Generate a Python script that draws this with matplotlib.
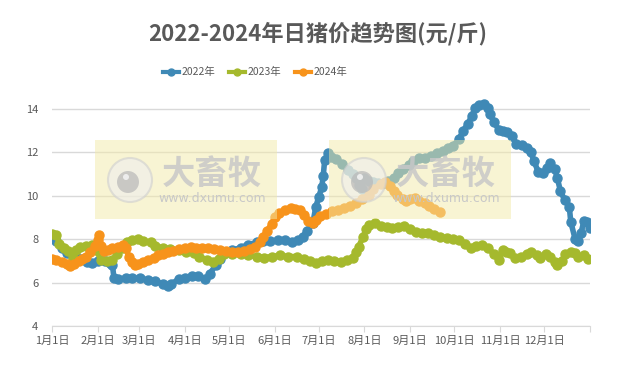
import matplotlib
matplotlib.use('Agg')
import matplotlib.pyplot as plt
from matplotlib.patches import Rectangle, Ellipse

plt.rcParams['font.family'] = ['Noto Sans CJK SC', 'DejaVu Sans']

# day of year (0 = Jan 1) and price
days_2022 = [0, 3, 7, 10, 16, 20, 24, 27, 31, 36, 39, 41, 42, 45, 50, 54, 60, 65, 70, 75, 79, 81, 86, 90, 95, 99,
             104, 107, 111, 114, 118, 122, 128, 133, 139, 143, 148, 153, 158, 163, 167, 170, 173, 177, 179, 181,
             183, 184, 185, 187, 189, 193, 197, 201, 204, 206, 208, 210, 212, 215, 218, 221, 225, 228, 232, 235,
             238, 242, 245, 249, 253, 257, 261, 265, 269, 272, 276, 279, 282, 285, 287, 290, 293, 296, 297, 300,
             303, 306, 309, 312, 315, 319, 322, 325, 327, 330, 333, 336, 338, 341, 343, 345, 348, 351, 352, 355,
             357, 359, 361, 363, 365]
price_2022 = [8.05, 7.9, 7.6, 7.35, 7.2, 7.1, 6.95, 6.9, 7.0, 7.0, 6.9, 6.8, 6.2, 6.15, 6.2, 6.2, 6.2, 6.1, 6.05,
              5.95, 5.85, 5.95, 6.15, 6.2, 6.3, 6.3, 6.15, 6.4, 6.8, 7.1, 7.4, 7.5, 7.6, 7.75, 7.85, 7.9, 7.9,
              7.95, 7.95, 7.85, 7.95, 8.1, 8.4, 8.75, 9.5, 9.95, 10.4, 10.9, 11.65, 11.95, 11.8, 11.7, 11.45,
              11.2, 11.0, 10.8, 10.5, 10.3, 10.8, 10.7, 10.65, 10.6, 10.6, 10.7, 10.8, 11.05, 11.25, 11.4, 11.6,
              11.75, 11.75, 11.85, 11.95, 12.05, 12.2, 12.3, 12.6, 13.0, 13.3, 13.7, 14.05, 14.2, 14.25, 14.05,
              13.75, 13.4, 13.05, 13.0, 12.95, 12.75, 12.4, 12.35, 12.2, 12.0, 11.6, 11.1, 11.05, 11.3, 11.5,
              11.25, 10.8, 10.2, 9.8, 9.5, 8.8, 8.0, 7.9, 8.3, 8.85, 8.8, 8.5]

days_2023 = [0, 3, 5, 8, 11, 14, 16, 19, 23, 27, 30, 33, 37, 41, 44, 48, 51, 54, 58, 62, 67, 70, 75, 80, 86, 91,
             96, 100, 105, 109, 113, 117, 122, 128, 133, 139, 144, 149, 155, 160, 166, 171, 175, 179, 183, 187,
             191, 196, 200, 204, 206, 208, 211, 213, 215, 219, 223, 227, 231, 235, 239, 243, 247, 251, 255, 259,
             263, 268, 272, 276, 280, 284, 288, 292, 296, 300, 303, 306, 308, 311, 314, 318, 322, 325, 329, 331,
             335, 338, 341, 343, 346, 348, 352, 355, 357, 361, 364]
price_2023 = [8.25, 8.2, 7.8, 7.6, 7.45, 7.15, 7.5, 7.65, 7.7, 7.75, 7.5, 7.05, 7.0, 7.05, 7.3, 7.6, 7.85, 7.95,
              8.0, 7.9, 7.85, 7.7, 7.6, 7.55, 7.5, 7.4, 7.35, 7.2, 7.05, 6.95, 7.1, 7.3, 7.3, 7.3, 7.25, 7.2,
              7.15, 7.2, 7.25, 7.2, 7.2, 7.1, 7.0, 6.9, 7.0, 7.05, 7.0, 6.95, 7.05, 7.15, 7.4, 7.65, 8.1, 8.45,
              8.65, 8.75, 8.6, 8.55, 8.5, 8.55, 8.6, 8.45, 8.35, 8.3, 8.3, 8.2, 8.1, 8.05, 8.0, 7.95, 7.8, 7.6,
              7.7, 7.75, 7.6, 7.3, 7.05, 7.5, 7.4, 7.35, 7.15, 7.2, 7.3, 7.4, 7.25, 7.15, 7.3, 7.2, 6.95, 6.8,
              7.0, 7.3, 7.4, 7.35, 7.2, 7.25, 7.1]

days_2024 = [0, 3, 7, 10, 12, 15, 18, 20, 23, 26, 29, 31, 32, 33, 35, 38, 41, 45, 48, 50, 52, 54, 56, 58, 62,
             65, 69, 72, 75, 79, 82, 86, 90, 94, 98, 102, 106, 110, 114, 118, 122, 126, 130, 134, 138, 141,
             143, 146, 149, 151, 154, 158, 162, 165, 168, 171, 174, 177, 179, 182, 186, 190, 194, 198, 202,
             206, 210, 215, 218, 223, 226, 229, 232, 234, 238, 240, 243, 246, 249, 253, 256, 259, 263]
price_2024 = [7.1, 7.05, 6.95, 6.85, 6.75, 6.85, 7.0, 7.1, 7.2, 7.4, 7.7, 7.95, 8.2, 7.7, 7.45, 7.5, 7.6, 7.65,
              7.75, 7.6, 7.2, 6.95, 6.8, 6.85, 6.95, 7.05, 7.15, 7.25, 7.3, 7.4, 7.45, 7.55, 7.6, 7.65, 7.6,
              7.6, 7.6, 7.55, 7.5, 7.45, 7.4, 7.4, 7.45, 7.55, 7.65, 7.85, 8.1, 8.4, 8.7, 9.0, 9.2, 9.35, 9.45,
              9.4, 9.35, 9.1, 8.85, 8.75, 8.9, 9.05, 9.15, 9.3, 9.35, 9.45, 9.55, 9.65, 9.85, 10.05, 10.3,
              10.55, 10.65, 10.45, 10.2, 10.05, 9.85, 9.75, 9.85, 9.9, 9.75, 9.65, 9.55, 9.4, 9.25]

month_days = [0, 31, 59, 90, 120, 151, 181, 212, 243, 273, 304, 334, 365]
month_labels = ['1月1日', '2月1日', '3月1日', '4月1日', '5月1日', '6月1日', '7月1日', '8月1日',
                '9月1日', '10月1日', '11月1日', '12月1日', '']

series = [('2022年', days_2022, price_2022, '#3f89b6'),
          ('2023年', days_2023, price_2023, '#a5b92d'),
          ('2024年', days_2024, price_2024, '#f7931b')]

fig = plt.figure(figsize=(6.35, 3.7), dpi=100)
ax = fig.add_axes([0.082, 0.119, 0.847, 0.645])

for name, d, p, c in series:
    ax.plot(d, p, color=c, lw=4, marker='o', ms=6.5, mec=c, mfc=c, label=name, zorder=3)

ax.set_xlim(0, 365)
ax.set_ylim(4, 15)
ax.set_yticks([4, 6, 8, 10, 12, 14])
ax.set_xticks(month_days)
ax.set_xticklabels(month_labels)
ax.grid(axis='y', color='#d9d9d9', lw=1)
ax.set_axisbelow(True)
for s in ['top', 'right', 'left']:
    ax.spines[s].set_visible(False)
ax.spines['bottom'].set_color('#d9d9d9')
ax.tick_params(axis='y', length=0, pad=10, labelsize=8, labelcolor='#595959')
ax.tick_params(axis='x', length=4, color='#d9d9d9', pad=3, labelsize=8, labelcolor='#595959')

fig.text(0.5, 0.91, '2022-2024年日猪价趋势图(元/斤)', ha='center', va='center',
         fontsize=16, fontweight='bold', color='#595959')
leg = ax.legend(loc='center', bbox_to_anchor=(255 / 635, 0.805), bbox_transform=fig.transFigure,
                ncol=3, frameon=False, fontsize=7.5, handlelength=1.6, handletextpad=0.2,
                columnspacing=1.3)
for t in leg.get_texts():
    t.set_color('#595959')
for h in leg.legend_handles:
    h.set_linewidth(3)
    h.set_markersize(5)

# watermark boxes
W, H = 635, 370
for x0 in [95, 329]:
    fig.add_artist(Rectangle((x0 / W, 1 - 219 / H), 182 / W, 79 / H, transform=fig.transFigure,
                             facecolor='#f3eaa8', edgecolor='none', alpha=0.5, zorder=5))
    fig.add_artist(Ellipse(((x0 + 35) / W, 1 - 180 / H), 44 / W, 44 / H, transform=fig.transFigure,
                           facecolor='#eeeeee', edgecolor='#cfcfcf', lw=1.5, alpha=0.6, zorder=6))
    fig.add_artist(Ellipse(((x0 + 33) / W, 1 - 182 / H), 22 / W, 22 / H, transform=fig.transFigure,
                           facecolor='#b8b8b8', edgecolor='none', alpha=0.7, zorder=6))
    fig.add_artist(Ellipse(((x0 + 31) / W, 1 - 177 / H), 6 / W, 6 / H, transform=fig.transFigure,
                           facecolor='#f2f2f2', edgecolor='none', alpha=0.9, zorder=7))
    fig.text((x0 + 117) / W, 1 - 174 / H, '大畜牧', ha='center', va='center', fontsize=24,
             fontweight='bold', color='#c8c8c8', alpha=0.85, zorder=6)
    fig.text((x0 + 117) / W, 1 - 199 / H, 'www.dxumu.com', ha='center', va='center',
             fontsize=9, family='DejaVu Sans', color='#c8c8c8', zorder=6)

fig.savefig('out.png', dpi=100)
